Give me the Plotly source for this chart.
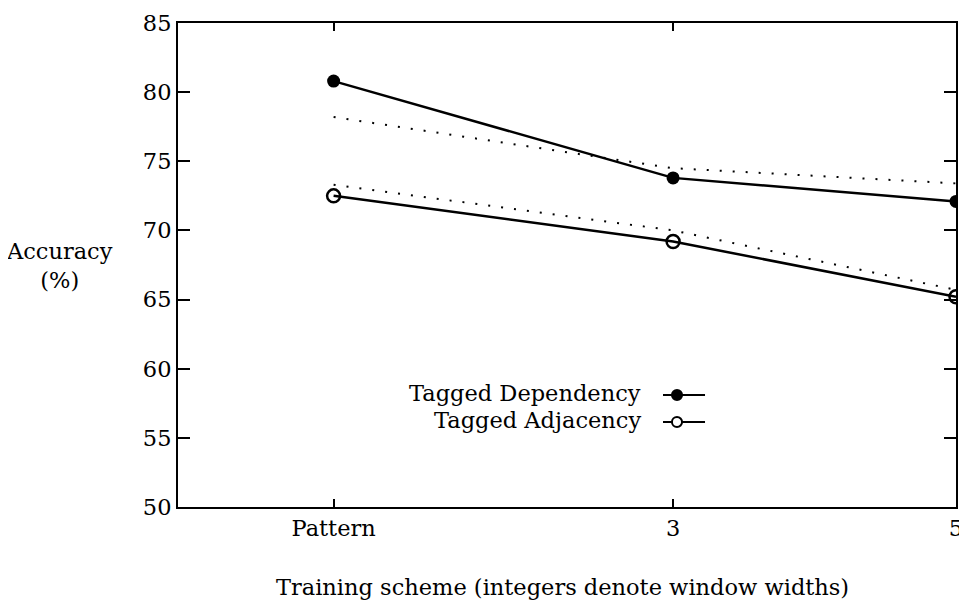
import plotly.graph_objects as go

# Datos
schemes = ['Pattern', '3', '5']
x_pos = [0.6, 3, 5]          # posición numérica de cada esquema en el eje

dependency = [80.8, 73.8, 72.1]
adjacency = [72.5, 69.2, 65.2]

# Líneas punteadas de referencia
dependency_ref = [78.2, 74.5, 73.4]
adjacency_ref = [73.3, 70.0, 65.7]

y_ticks = [50, 55, 60, 65, 70, 75, 80, 85]

FONT = 'DejaVu Serif'
SIZE = 22.5

fig = go.Figure()

# Líneas punteadas
for ref in (dependency_ref, adjacency_ref):
    fig.add_trace(go.Scatter(
        x=x_pos, y=ref, mode='lines',
        line=dict(color='black', width=2, dash='2px,11px'),
        showlegend=False, hoverinfo='skip'
    ))

# Series principales
fig.add_trace(go.Scatter(
    x=x_pos, y=dependency, mode='lines+markers', name='Tagged Dependency',
    line=dict(color='black', width=2.5),
    marker=dict(symbol='circle', size=13, color='black'),
    showlegend=False
))
fig.add_trace(go.Scatter(
    x=x_pos, y=adjacency, mode='lines+markers', name='Tagged Adjacency',
    line=dict(color='black', width=2.5),
    marker=dict(symbol='circle-open', size=13, color='black',
                line=dict(width=2.5)),
    showlegend=False
))

# Leyenda dibujada a mano (texto a la izquierda, muestra a la derecha)
legend_rows = [('Tagged Dependency', 0.2314, 'black'),
               ('Tagged Adjacency', 0.1756, 'white')]
annotations = []
shapes = []
for label, yy, fill in legend_rows:
    annotations.append(dict(
        text=label, x=0.598, y=yy + 0.004, xref='paper', yref='paper',
        xanchor='right', yanchor='middle', showarrow=False,
        font=dict(family=FONT, size=SIZE, color='black')
    ))
    shapes.append(dict(
        type='line', xref='paper', yref='paper',
        x0=0.6234, x1=0.6774, y0=yy, y1=yy,
        line=dict(color='black', width=2)
    ))
    shapes.append(dict(
        type='circle', xref='paper', yref='paper',
        x0=0.6414 - 0.0065, x1=0.6414 + 0.0065,
        y0=yy - 0.0103, y1=yy + 0.0103,
        fillcolor=fill, line=dict(color='black', width=2)
    ))

# Título del eje Y en horizontal
annotations.append(dict(
    text='Accuracy<br>(%)', x=-0.1517, y=0.498, xref='paper', yref='paper',
    xanchor='center', yanchor='middle', showarrow=False,
    font=dict(family=FONT, size=SIZE, color='black')
))

# Título del eje X
annotations.append(dict(
    text='Training scheme (integers denote window widths)',
    x=0.494, y=-0.166, xref='paper', yref='paper',
    xanchor='center', yanchor='middle', showarrow=False,
    font=dict(family=FONT, size=SIZE, color='black')
))

fig.update_xaxes(
    range=[-0.5, 5.0], tickvals=x_pos, ticktext=schemes,
    ticks='inside', ticklen=8, tickwidth=2, tickcolor='black',
    showline=True, linecolor='black', linewidth=2, mirror='ticks',
    showgrid=False, zeroline=False, ticklabeloverflow='allow',
    tickfont=dict(family=FONT, size=SIZE, color='black')
)
fig.update_yaxes(
    range=[50, 85], tickvals=y_ticks,
    ticks='inside', ticklen=12, tickwidth=2, tickcolor='black',
    showline=True, linecolor='black', linewidth=2, mirror='ticks',
    showgrid=False, zeroline=False,
    tickfont=dict(family=FONT, size=SIZE, color='black')
)

# La página tiene 8px de margen propio: se compensa aquí
fig.update_layout(
    width=959, height=595,
    margin=dict(l=170, r=11, t=15, b=96, autoexpand=False),
    plot_bgcolor='white', paper_bgcolor='white',
    annotations=annotations, shapes=shapes,
    showlegend=False
)

fig.write_html('out.html')
